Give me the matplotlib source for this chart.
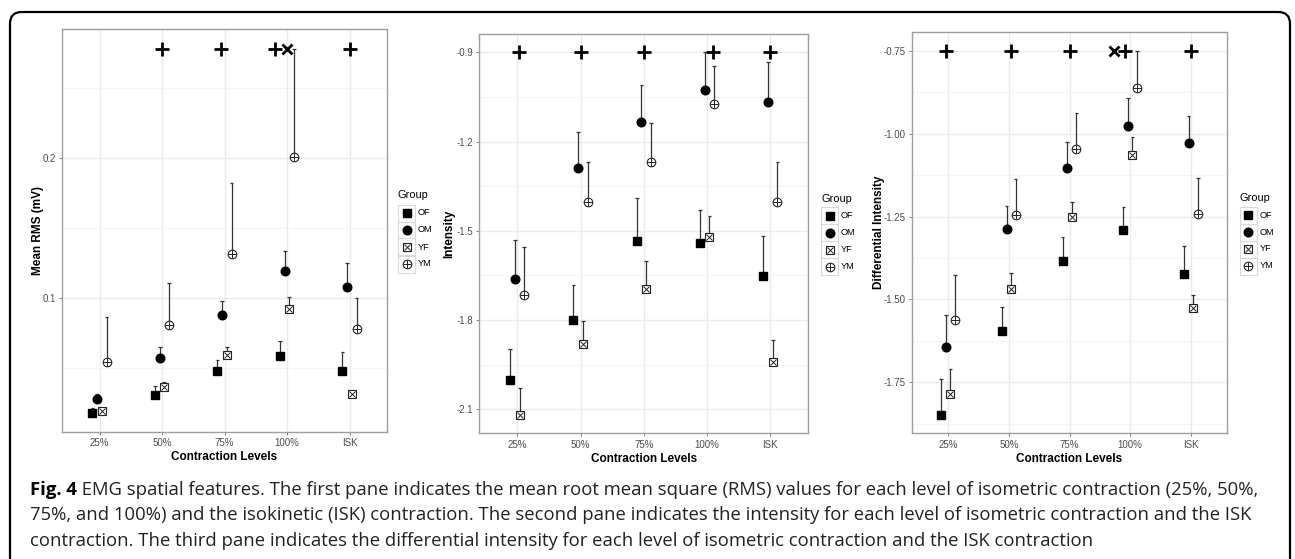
import numpy as np
import matplotlib
matplotlib.use('Agg')
import matplotlib.pyplot as plt
from matplotlib.lines import Line2D
from matplotlib.patches import Rectangle, FancyBboxPatch

plt.rcParams['font.family'] = ['Liberation Sans', 'DejaVu Sans']
plt.rcParams['axes.unicode_minus'] = False

# Daten
levels = ['25%', '50%', '75%', '100%', 'ISK']
groups = ['OF', 'OM', 'YF', 'YM']

# Zeilen: OF, OM, YF, YM
rms_mean = np.array([[0.0175, 0.0301, 0.0476, 0.0586, 0.0474],
                     [0.0273, 0.0569, 0.0876, 0.1191, 0.1074],
                     [0.0190, 0.0364, 0.0589, 0.0916, 0.0309],
                     [0.0543, 0.0806, 0.1311, 0.2012, 0.0773]])
rms_upper = np.array([[0.0213, 0.0366, 0.0553, 0.0687, 0.0610],
                      [0.0313, 0.0646, 0.0978, 0.1337, 0.1246],
                      [0.0200, 0.0395, 0.0644, 0.1005, 0.0315],
                      [0.0861, 0.1103, 0.1825, 0.2782, 0.0995]])

int_mean = np.array([[-2.0025, -1.799, -1.534, -1.542, -1.651],
                     [-1.661, -1.289, -1.134, -1.027, -1.067],
                     [-2.119, -1.880, -1.694, -1.522, -1.940],
                     [-1.716, -1.404, -1.269, -1.075, -1.402]])
int_upper = np.array([[-1.898, -1.683, -1.391, -1.430, -1.518],
                      [-1.531, -1.169, -1.010, -0.900, -0.932],
                      [-2.028, -1.804, -1.601, -1.449, -1.867],
                      [-1.555, -1.269, -1.136, -0.944, -1.269]])

dint_mean = np.array([[-1.849, -1.595, -1.384, -1.291, -1.422],
                      [-1.643, -1.287, -1.104, -0.978, -1.028],
                      [-1.784, -1.468, -1.251, -1.065, -1.526],
                      [-1.563, -1.246, -1.045, -0.863, -1.241]])
dint_upper = np.array([[-1.740, -1.524, -1.313, -1.220, -1.339],
                       [-1.548, -1.217, -1.025, -0.893, -0.948],
                       [-1.711, -1.420, -1.206, -1.011, -1.488],
                       [-1.426, -1.137, -0.938, -0.750, -1.135]])

# Signifikanz-Markierungen (+ und x) oberhalb der Punkte
rms_plus_x = [2.0, 2.95, 3.81, 5.0]
rms_cross_x = [4.0]
rms_sig_y = 0.278
int_plus_x = [1.02, 2.0, 3.0, 4.1, 5.0]
int_cross_x = []
int_sig_y = -0.9
dint_plus_x = [0.97, 2.03, 3.0, 3.92, 5.0]
dint_cross_x = [3.74]
dint_sig_y = -0.75

rms_ticks = [0.1, 0.2]
int_ticks = [-2.1, -1.8, -1.5, -1.2, -0.9]
dint_ticks = [-1.75, -1.50, -1.25, -1.00, -0.75]

W, H = 1295, 559
fig = plt.figure(figsize=(W / 100, H / 100), dpi=100)


def fx(x):
    return x / W


def fy(y):
    return 1 - y / H


dodge = [-0.1125, -0.0375, 0.0375, 0.1125]
grid_major = '#EBEBEB'
grid_minor = '#F4F4F4'
tick_col = '#4D4D4D'


def draw_point(ax_or_fig, x, y, g, **kw):
    """Zeichnet das ggplot-Symbol der Gruppe g."""
    tr = kw.get('transform')
    extra = {'transform': tr} if tr is not None else {}
    plot = (lambda *a, **k: ax_or_fig.add_artist(Line2D(*a, **k))) if tr is not None else ax_or_fig.plot
    if g == 'OF':
        plot(x, y, ls='none', marker='s', ms=6.2, mfc='black', mec='black', zorder=4, **extra)
    elif g == 'OM':
        plot(x, y, ls='none', marker='o', ms=6.2, mfc='black', mec='black', zorder=4, **extra)
    elif g == 'YF':
        plot(x, y, ls='none', marker='s', ms=6.2, mfc='white', mec='#222222', mew=0.8, zorder=4, **extra)
        plot(x, y, ls='none', marker='x', ms=4.3, mec='#222222', mew=0.7, zorder=5, **extra)
    else:
        plot(x, y, ls='none', marker='o', ms=6.2, mfc='white', mec='#222222', mew=0.8, zorder=4, **extra)
        plot(x, y, ls='none', marker='+', ms=6.2, mec='#222222', mew=0.7, zorder=5, **extra)


def panel(rect, mean, upper, ticks, fmt, ylim, ylabel, plus_x, cross_x, sig_y, ylab_x, xlab_y):
    ax = fig.add_axes(rect)
    ax.set_xlim(0.4, 5.6)
    ax.set_ylim(*ylim)
    xs = np.arange(1, 6)
    for gi, g in enumerate(groups):
        x = xs + dodge[gi]
        ax.vlines(x, mean[gi], upper[gi], color='#333333', lw=0.9, zorder=3)
        ax.hlines(upper[gi], x - 0.03, x + 0.03, color='#333333', lw=0.9, zorder=3)
        draw_point(ax, x, mean[gi], g)
    ax.plot(plus_x, [sig_y] * len(plus_x), ls='none', marker='+', ms=9.5, mew=2.0, color='black', zorder=6)
    ax.plot(cross_x, [sig_y] * len(cross_x), ls='none', marker='x', ms=6.8, mew=2.0, color='black', zorder=6)

    ax.set_xticks(xs)
    ax.set_xticklabels(levels)
    ax.set_yticks(ticks)
    ax.set_yticklabels([fmt.format(t) for t in ticks])
    step = ticks[1] - ticks[0]
    minors = np.arange(ticks[0] - step / 2, ylim[1], step)
    ax.set_yticks([m for m in minors if ylim[0] < m < ylim[1]], minor=True)
    ax.tick_params(axis='both', which='major', labelsize=7, labelcolor=tick_col, color='#7F7F7F',
                   length=2.5, width=0.7, pad=2)
    ax.tick_params(axis='y', which='minor', length=0)
    ax.grid(True, which='major', color=grid_major, lw=1.0, zorder=0)
    ax.grid(True, which='minor', axis='y', color=grid_minor, lw=0.7, zorder=0)
    ax.set_axisbelow(True)
    for s in ax.spines.values():
        s.set_color('#9E9E9E')
        s.set_linewidth(1.0)
    ax.set_xlabel('Contraction Levels', fontsize=8.5, fontweight='bold')
    ax.set_ylabel(ylabel, fontsize=8.5, fontweight='bold')
    ax.yaxis.set_label_coords(ylab_x, 0.5)
    ax.xaxis.set_label_coords(0.5, xlab_y)
    return ax


panel([fx(62), fy(432), fx(325), 403 / H], rms_mean, rms_upper, rms_ticks, '{:.1f}',
      (0.0038, 0.2926), 'Mean RMS (mV)', rms_plus_x, rms_cross_x, rms_sig_y, -0.056, -0.048)
panel([fx(479.3), fy(433.3), fx(329), 399.6 / H], int_mean, int_upper, int_ticks, '{:.1f}',
      (-2.181, -0.837), 'Intensity', int_plus_x, int_cross_x, int_sig_y, -0.074, -0.049)
panel([fx(911.7), fy(433.3), fx(315.6), 401 / H], dint_mean, dint_upper, dint_ticks, '{:.2f}',
      (-1.904, -0.694), 'Differential Intensity', dint_plus_x, dint_cross_x, dint_sig_y, -0.0845, -0.049)

# Legenden (ggplot-Stil mit Schluesselkaesten)
for lx, ty, rows in [(398, 195, 213), (821, 199, 215.5), (1239.5, 198, 215)]:
    fig.text(fx(lx), fy(ty), 'Group', fontsize=7.9, va='center', ha='left')
    for gi, g in enumerate(groups):
        cy = rows + 17 * gi
        fig.add_artist(Rectangle((fx(lx), fy(cy + 8.5)), fx(17), 17 / H, transform=fig.transFigure,
                                 facecolor='white', edgecolor='#D9D9D9', lw=0.8))
        draw_point(fig, [fx(lx + 8.5)], [fy(cy)], g, transform=fig.transFigure)
        fig.text(fx(lx + 20), fy(cy), g, fontsize=6.6, va='center', ha='left')

# Rahmen um Abbildung und Bildunterschrift
fig.add_artist(FancyBboxPatch((fx(10), -0.1), fx(1280), fy(12) + 0.1,
                              boxstyle='round,pad=0,rounding_size=0.009', transform=fig.transFigure,
                              facecolor='none', edgecolor='black', lw=1.6, mutation_aspect=W / H))

cap_font = ['Open Sans', 'DejaVu Sans']
cap_size = 13.3
t1 = fig.text(fx(30), fy(490), 'Fig. 4', fontsize=cap_size, fontweight='bold', family=cap_font,
              va='center', ha='left')
plt.annotate(' EMG spatial features. The first pane indicates the mean root mean square (RMS) values for '
             'each level of isometric contraction (25%, 50%,', xy=(1, 0.5), xycoords=t1,
             va='center', ha='left', fontsize=cap_size, family=cap_font, color='#222222')
fig.text(fx(30), fy(515.5), '75%, and 100%) and the isokinetic (ISK) contraction. The second pane indicates '
         'the intensity for each level of isometric contraction and the ISK', fontsize=cap_size,
         family=cap_font, va='center', ha='left', color='#222222')
fig.text(fx(30), fy(541), 'contraction. The third pane indicates the differential intensity for each level '
         'of isometric contraction and the ISK contraction', fontsize=cap_size, family=cap_font,
         va='center', ha='left', color='#222222')

fig.savefig('out.png', dpi=100)
